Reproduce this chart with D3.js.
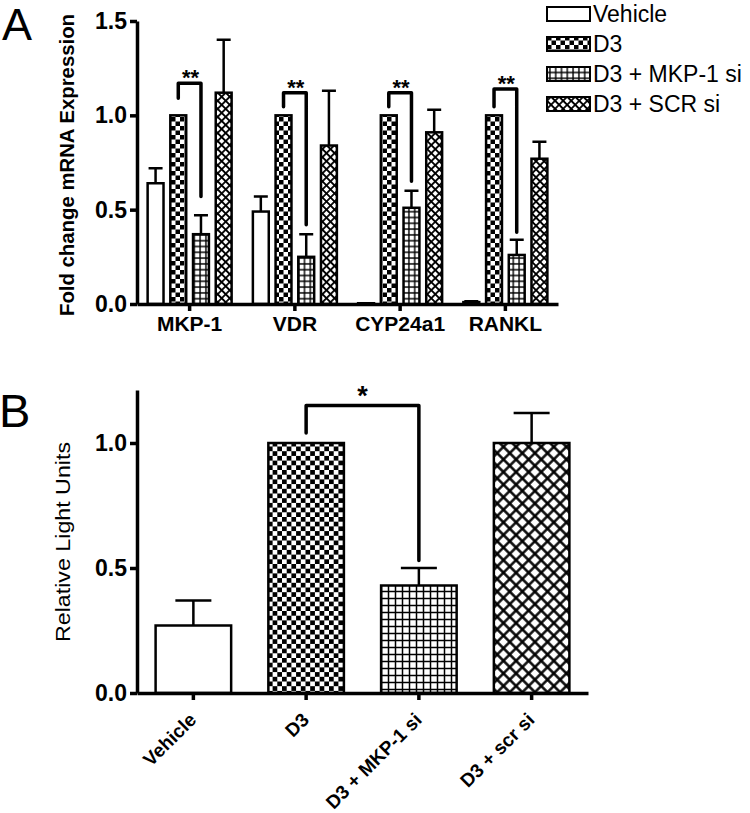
<!DOCTYPE html>
<html>
<head>
<meta charset="utf-8">
<script src="https://cdn.jsdelivr.net/npm/d3@7"></script>
<style>
    body { margin: 0; background: #fff; }
    svg { display: block; font-family: "Liberation Sans", Arial, sans-serif; }
    text { fill: #000; }
</style>
</head>
<body>
<div id="chart"></div>
<script>
// Panel A - fold change per gene
const genes = ['MKP-1', 'VDR', 'CYP24a1', 'RANKL'];
const treatmentsA = ['Vehicle', 'D3', 'D3 + MKP-1 si', 'D3 + SCR si'];
const vehicleA = [0.64, 0.49, 0.004, 0.01];
const vehicleErrA = [0.08, 0.08, 0, 0.004];
const d3A = [1.0, 1.0, 1.0, 1.0];
const d3ErrA = [0, 0, 0, 0];
const mkpA = [0.37, 0.25, 0.51, 0.26];
const mkpErrA = [0.10, 0.12, 0.09, 0.08];
const scrA = [1.12, 0.84, 0.91, 0.77];
const scrErrA = [0.28, 0.29, 0.12, 0.09];
const bracketTopA = [1.17, 1.12, 1.12, 1.14];
const bracketLeftA = [1.09, 1.045, 1.045, 1.045];
const bracketRightA = [0.57, 0.42, 0.65, 0.38];
const yTicksA = [0, 0.5, 1.0, 1.5];

// Panel B - luciferase
const treatmentsB = ['Vehicle', 'D3', 'D3 + MKP-1 si', 'D3 + scr si'];
const meansB = [0.27, 1.0, 0.43, 1.0];
const errB = [0.10, 0, 0.07, 0.12];
const bracketB = { top: 1.15, left: 1.04, right: 0.53 };
const yTicksB = [0, 0.5, 1.0];

const width = 750;
const height = 813;
const font = '"Liberation Sans", Arial, sans-serif';

const svg = d3.select('#chart')
    .append('svg')
    .attr('width', width)
    .attr('height', height);

svg.append('rect').attr('width', width).attr('height', height).attr('fill', 'white');

// Fill patterns
const defs = svg.append('defs');

function checker(id, s) {
    const p = defs.append('pattern').attr('id', id)
        .attr('patternUnits', 'userSpaceOnUse')
        .attr('width', 2 * s).attr('height', 2 * s);
    p.append('rect').attr('width', 2 * s).attr('height', 2 * s).attr('fill', 'white');
    p.append('rect').attr('width', s).attr('height', s).attr('fill', 'black');
    p.append('rect').attr('x', s).attr('y', s).attr('width', s).attr('height', s).attr('fill', 'black');
}

function grid(id, s, w, rot) {
    const p = defs.append('pattern').attr('id', id)
        .attr('patternUnits', 'userSpaceOnUse')
        .attr('width', s).attr('height', s);
    if (rot) p.attr('patternTransform', `rotate(${rot})`);
    p.append('rect').attr('width', s).attr('height', s).attr('fill', 'white');
    p.append('path')
        .attr('d', `M0,${s / 2}H${s}M${s / 2},0V${s}`)
        .attr('stroke', 'black')
        .attr('stroke-width', w);
}

checker('checkA', 4.5);
grid('gridA', 5.8, 1.4);
grid('crossA', 5.7, 1.8, 45);
checker('checkB', 4.7);
grid('gridB', 7, 1.5);
grid('crossB', 8.9, 2.4, 45);

const fillsA = ['white', 'url(#checkA)', 'url(#gridA)', 'url(#crossA)'];
const fillsB = ['white', 'url(#checkB)', 'url(#gridB)', 'url(#crossB)'];

function styleAxis(g, size, weight) {
    g.select('.domain').attr('stroke', 'black').attr('stroke-width', 3.5);
    g.selectAll('.tick line').attr('stroke', 'black').attr('stroke-width', 3.5);
    g.selectAll('.tick text')
        .attr('fill', 'black')
        .style('font-family', font)
        .style('font-size', size + 'px')
        .style('font-weight', weight);
}

// ---------- Panel A ----------
const yA = d3.scaleLinear().domain([0, 1.5]).range([304, 21]);
const x0 = d3.scaleBand().domain(genes).range([137, 558]);
const x1 = d3.scaleBand().domain(treatmentsA).range([-42, 42]).paddingInner(0.3);

const seriesA = [
    { means: vehicleA, errs: vehicleErrA },
    { means: d3A, errs: d3ErrA },
    { means: mkpA, errs: mkpErrA },
    { means: scrA, errs: scrErrA }
];

const rowsA = [];
genes.forEach((g, gi) => {
    treatmentsA.forEach((t, ti) => {
        rowsA.push({ gene: g, treat: t, ti: ti, mean: seriesA[ti].means[gi], err: seriesA[ti].errs[gi] });
    });
});

const barA = svg.append('g');
const cxA = d => x0(d.gene) + x0.bandwidth() / 2 + x1(d.treat) + x1.bandwidth() / 2;

// error bars
barA.selectAll('.errA')
    .data(rowsA.filter(d => d.err > 0))
    .enter()
    .append('path')
    .attr('d', d => `M${cxA(d)},${yA(d.mean)}V${yA(d.mean + d.err)}M${cxA(d) - 7},${yA(d.mean + d.err)}H${cxA(d) + 7}`)
    .attr('stroke', 'black')
    .attr('stroke-width', 2.5)
    .attr('fill', 'none');

barA.selectAll('.barA')
    .data(rowsA)
    .enter()
    .append('rect')
    .attr('x', d => x0(d.gene) + x0.bandwidth() / 2 + x1(d.treat))
    .attr('y', d => yA(d.mean))
    .attr('width', x1.bandwidth())
    .attr('height', d => yA(0) - yA(d.mean))
    .attr('fill', d => fillsA[d.ti])
    .attr('stroke', 'black')
    .attr('stroke-width', 2.5);

// significance brackets
genes.forEach((g, gi) => {
    const xl = x0(g) + x0.bandwidth() / 2 + x1('D3') + x1.bandwidth() / 2;
    const xr = x0(g) + x0.bandwidth() / 2 + x1('D3 + MKP-1 si') + x1.bandwidth() / 2;
    svg.append('path')
        .attr('d', `M${xl},${yA(bracketLeftA[gi])}V${yA(bracketTopA[gi])}H${xr}V${yA(bracketRightA[gi])}`)
        .attr('fill', 'none')
        .attr('stroke', 'black')
        .attr('stroke-width', 3.5)
        .attr('stroke-linecap', 'round')
        .attr('stroke-linejoin', 'round');
    svg.append('text')
        .attr('x', (xl + xr) / 2 + 1)
        .attr('y', yA(bracketTopA[gi]) + 2)
        .attr('text-anchor', 'middle')
        .attr('fill', 'black')
        .style('font-size', '22px')
        .style('font-weight', 'bold')
        .text('**');
});

const axisA = svg.append('g')
    .attr('transform', 'translate(137,0)')
    .call(d3.axisLeft(yA).tickValues(yTicksA).tickFormat(d3.format('.1f')).tickSize(7).tickSizeOuter(0).tickPadding(3));
styleAxis(axisA, 23, 'bold');

const xAxisA = svg.append('g')
    .attr('transform', 'translate(0,304)')
    .call(d3.axisBottom(x0).tickSize(7).tickSizeOuter(0).tickPadding(5));
styleAxis(xAxisA, 21, 'bold');

svg.append('text')
    .attr('transform', 'translate(74,165) rotate(-90)')
    .attr('text-anchor', 'middle')
    .attr('textLength', 302)
    .attr('lengthAdjust', 'spacingAndGlyphs')
    .style('font-size', '20px')
    .style('font-weight', 'bold')
    .text('Fold change mRNA Expression');

svg.append('text')
    .attr('x', 2)
    .attr('y', 40)
    .style('font-size', '45px')
    .text('A');

// legend
const legend = svg.append('g').attr('transform', 'translate(547,0)');
treatmentsA.forEach((t, i) => {
    const ly = 14 + i * 30;
    legend.append('rect')
        .attr('x', 0).attr('y', ly - 7)
        .attr('width', 43).attr('height', 14)
        .attr('fill', fillsA[i])
        .attr('stroke', 'black')
        .attr('stroke-width', 2);
    legend.append('text')
        .attr('x', 46).attr('y', ly)
        .attr('dy', '0.35em')
        .style('font-size', '23px')
        .text(t);
});

// ---------- Panel B ----------
const yB = d3.scaleLinear().domain([0, 1.212]).range([693, 390]);
const xB = d3.scaleBand().domain(treatmentsB).range([137, 588]).paddingInner(0.33).paddingOuter(0.165);
const cxB = d => xB(d) + xB.bandwidth() / 2;

const rowsB = treatmentsB.map((t, i) => ({ treat: t, i: i, mean: meansB[i], err: errB[i] }));

svg.selectAll('.errB')
    .data(rowsB.filter(d => d.err > 0))
    .enter()
    .append('path')
    .attr('d', d => `M${cxB(d.treat)},${yB(d.mean)}V${yB(d.mean + d.err)}M${cxB(d.treat) - 18},${yB(d.mean + d.err)}H${cxB(d.treat) + 18}`)
    .attr('stroke', 'black')
    .attr('stroke-width', 2.5)
    .attr('fill', 'none');

svg.selectAll('.barB')
    .data(rowsB)
    .enter()
    .append('rect')
    .attr('x', d => xB(d.treat))
    .attr('y', d => yB(d.mean))
    .attr('width', xB.bandwidth())
    .attr('height', d => yB(0) - yB(d.mean))
    .attr('fill', d => fillsB[d.i])
    .attr('stroke', 'black')
    .attr('stroke-width', 2.5);

const bl = cxB('D3');
const br = cxB('D3 + MKP-1 si');
svg.append('path')
    .attr('d', `M${bl},${yB(bracketB.left)}V${yB(bracketB.top)}H${br}V${yB(bracketB.right)}`)
    .attr('fill', 'none')
    .attr('stroke', 'black')
    .attr('stroke-width', 3.5)
    .attr('stroke-linecap', 'round')
    .attr('stroke-linejoin', 'round');
svg.append('text')
    .attr('x', (bl + br) / 2)
    .attr('y', yB(bracketB.top) - 1)
    .attr('text-anchor', 'middle')
    .attr('fill', 'black')
    .style('font-size', '27px')
    .style('font-weight', 'bold')
    .text('*');

const axisB = svg.append('g')
    .attr('transform', 'translate(137,0)')
    .call(d3.axisLeft(yB).tickValues(yTicksB).tickFormat(d3.format('.1f')).tickSize(7).tickSizeOuter(0).tickPadding(3));
styleAxis(axisB, 23, 'bold');

const xAxisB = svg.append('g')
    .attr('transform', 'translate(0,693)')
    .call(d3.axisBottom(xB).tickSize(7).tickSizeOuter(0).tickFormat(''));
styleAxis(xAxisB, 18, 'bold');

// rotated category labels
svg.selectAll('.labB')
    .data(treatmentsB)
    .enter()
    .append('text')
    .attr('transform', d => `translate(${cxB(d) + 4},721) rotate(-45)`)
    .attr('text-anchor', 'end')
    .style('font-size', '19px')
    .style('font-weight', 'bold')
    .text(d => d);

svg.append('text')
    .attr('transform', 'translate(69.5,542) rotate(-90)')
    .attr('text-anchor', 'middle')
    .attr('textLength', 200)
    .attr('lengthAdjust', 'spacingAndGlyphs')
    .style('font-size', '20px')
    .text('Relative Light Units');

svg.append('text')
    .attr('x', -1)
    .attr('y', 427)
    .style('font-size', '47px')
    .text('B');
</script>
</body>
</html>
